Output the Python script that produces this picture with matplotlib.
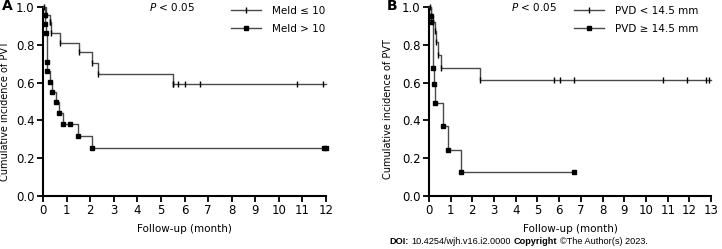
import matplotlib.pyplot as plt
import numpy as np

# Panel A: Meld <= 10 (tick marks) and Meld > 10 (squares)
a_low_t = [0, 0.12, 0.28, 0.35, 0.71, 1.51, 2.08, 2.33, 5.49, 12.0]
a_low_s = [1.0, 0.96, 0.92, 0.865, 0.81, 0.76, 0.705, 0.648, 0.593, 0.593]
a_low_cens_t = [0.05, 0.28, 5.49, 5.73, 6.02, 6.65, 10.78, 11.85]
a_low_cens_s = [1.0, 0.92, 0.593, 0.593, 0.593, 0.593, 0.593, 0.593]

a_high_t = [0, 0.07, 0.1, 0.13, 0.15, 0.18, 0.28, 0.38, 0.55, 0.69, 0.83, 1.47, 2.07, 12.0]
a_high_s = [1.0, 0.96, 0.91, 0.86, 0.71, 0.66, 0.605, 0.55, 0.495, 0.44, 0.382, 0.32, 0.255, 0.255]
a_high_cens_t = [1.16, 11.9, 12.0]
a_high_cens_s = [0.382, 0.255, 0.255]

# Panel B: PVD < 14.5 mm (tick marks) and PVD >= 14.5 mm (squares)
b_low_t = [0, 0.08, 0.2, 0.28, 0.35, 0.43, 0.54, 2.35, 13.0]
b_low_s = [1.0, 0.955, 0.92, 0.875, 0.815, 0.748, 0.676, 0.612, 0.612]
b_low_cens_t = [0.05, 5.74, 6.05, 6.67, 10.8, 11.89, 12.75, 12.88]
b_low_cens_s = [1.0, 0.612, 0.612, 0.612, 0.612, 0.612, 0.612, 0.612]

b_high_t = [0, 0.08, 0.12, 0.17, 0.22, 0.27, 0.66, 0.86, 1.5, 6.7]
b_high_s = [1.0, 0.95, 0.92, 0.675, 0.59, 0.49, 0.368, 0.245, 0.125, 0.125]
b_high_cens_t = [6.7]
b_high_cens_s = [0.125]

footer = [('DOI:', 'bold'), ('10.4254/wjh.v16.i2.0000', 'normal'),
          ('Copyright', 'bold'), ('©The Author(s) 2023.', 'normal')]

line_col = '#4a4a4a'
plt.rcParams['font.family'] = ['DejaVu Sans']

fig = plt.figure(figsize=(7.22, 2.49), dpi=100)


def km(ax, t, s, marker, ms):
    # events drawn at new level after each drop
    ax.step(t, s, where='post', color=line_col, lw=1.0, clip_on=False, zorder=3)
    ax.plot(t[1:-1], s[1:-1], ls='none', marker=marker, color='black', ms=ms,
            mew=1.0, clip_on=False, zorder=4)


def style(ax, xmax):
    ax.set_xlim(0, xmax)
    ax.set_ylim(0, 1.0)
    ax.set_xticks(range(0, xmax + 1))
    ax.set_yticks([0, 0.2, 0.4, 0.6, 0.8, 1.0])
    ax.set_yticklabels(['0.0', '0.2', '0.4', '0.6', '0.8', '1.0'])
    for sp in ['top', 'right']:
        ax.spines[sp].set_visible(False)
    for sp in ['left', 'bottom']:
        ax.spines[sp].set_linewidth(1.5)
    ax.tick_params(direction='out', length=4, width=1.3, labelsize=8.5, pad=2)
    ax.set_xlabel('Follow-up (month)', fontsize=7.5, labelpad=5)
    ax.set_ylabel('Cumulative incidence of PVT', fontsize=7)


# ---- panel A
ax1 = fig.add_axes([0.0596, 0.2129, 0.392, 0.759])
km(ax1, a_low_t, a_low_s, '|', 4)
ax1.plot(a_low_cens_t, a_low_cens_s, ls='none', marker='|', color='black', ms=4, mew=1.0, clip_on=False, zorder=4)
km(ax1, a_high_t, a_high_s, 's', 3)
ax1.plot(a_high_cens_t, a_high_cens_s, ls='none', marker='s', color='black', ms=3, clip_on=False, zorder=4)
style(ax1, 12)
ax1.yaxis.set_label_coords(-0.115, 0.45)
ax1.text(0.373, 1.0, '$P$ < 0.05', transform=ax1.transAxes, fontsize=7.5, va='center', ha='left')
l1, = ax1.plot([], [], color=line_col, lw=1.0, marker='|', ms=4, mfc='black', mec='black')
l2, = ax1.plot([], [], color=line_col, lw=1.0, marker='s', ms=3, mfc='black', mec='black')
ax1.legend([l1, l2], ['Meld ≤ 10', 'Meld > 10'], loc='upper left', bbox_to_anchor=(0.63, 1.055),
           frameon=False, fontsize=7.5, handlelength=2.9, handletextpad=1.1, labelspacing=0.75)
fig.text(0.002, 0.975, 'A', fontsize=10, fontweight='bold', va='center')

# ---- panel B
ax2 = fig.add_axes([0.594, 0.2129, 0.391, 0.759])
km(ax2, b_low_t, b_low_s, '|', 4)
ax2.plot(b_low_cens_t, b_low_cens_s, ls='none', marker='|', color='black', ms=4, mew=1.0, clip_on=False, zorder=4)
km(ax2, b_high_t, b_high_s, 's', 3)
ax2.plot(b_high_cens_t, b_high_cens_s, ls='none', marker='s', color='black', ms=3, clip_on=False, zorder=4)
style(ax2, 13)
ax2.yaxis.set_label_coords(-0.127, 0.46)
ax2.text(0.29, 1.0, '$P$ < 0.05', transform=ax2.transAxes, fontsize=7.5, va='center', ha='left')
l3, = ax2.plot([], [], color=line_col, lw=1.0, marker='|', ms=4, mfc='black', mec='black')
l4, = ax2.plot([], [], color=line_col, lw=1.0, marker='s', ms=3, mfc='black', mec='black')
ax2.legend([l3, l4], ['PVD < 14.5 mm', 'PVD ≥ 14.5 mm'], loc='upper left', bbox_to_anchor=(0.48, 1.055),
           frameon=False, fontsize=7.5, handlelength=2.9, handletextpad=1.1, labelspacing=0.75)
fig.text(0.535, 0.975, 'B', fontsize=10, fontweight='bold', va='center')

# footer, pieces placed one after another
fig.canvas.draw()
rend = fig.canvas.get_renderer()
x = 389 / 722
for txt, wt in footer:
    t = fig.text(x, 0.032, txt, fontsize=6.6, fontweight=wt, va='center',
                 family=['Liberation Sans Narrow', 'Liberation Sans', 'DejaVu Sans'])
    bb = t.get_window_extent(rend)
    x = (bb.x1 + 3) / 722

fig.savefig('out.png', dpi=100)
